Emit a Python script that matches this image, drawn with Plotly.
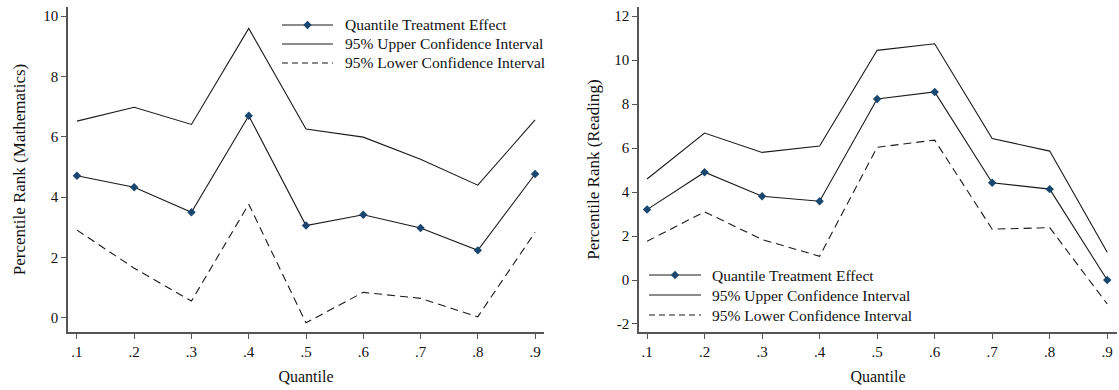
import plotly.graph_objects as go

# Quantiles on the horizontal axis
quantiles = [0.1, 0.2, 0.3, 0.4, 0.5, 0.6, 0.7, 0.8, 0.9]
tick_labels = [".1", ".2", ".3", ".4", ".5", ".6", ".7", ".8", ".9"]

# Mathematics: quantile treatment effects with 95% bounds
math_qte = [4.71, 4.33, 3.50, 6.70, 3.06, 3.42, 2.98, 2.24, 4.77]
math_upper = [6.52, 6.98, 6.41, 9.59, 6.26, 5.99, 5.26, 4.40, 6.56]
math_lower = [2.91, 1.65, 0.56, 3.77, -0.16, 0.85, 0.65, 0.04, 2.84]
math_yticks = [0, 2, 4, 6, 8, 10]

# Reading: quantile treatment effects with 95% bounds
read_qte = [3.20, 4.90, 3.81, 3.58, 8.23, 8.55, 4.42, 4.13, 0.00]
read_upper = [4.59, 6.68, 5.80, 6.09, 10.44, 10.74, 6.43, 5.86, 1.26]
read_lower = [1.76, 3.10, 1.84, 1.08, 6.03, 6.36, 2.31, 2.38, -1.09]
read_yticks = [-2, 0, 2, 4, 6, 8, 10, 12]

series_names = [
    "Quantile Treatment Effect",
    "95% Upper Confidence Interval",
    "95% Lower Confidence Interval",
]

FONT = "Liberation Serif"
NAVY = "#1a476f"
LINE = "#1a1a1a"
TEXT = "#111111"
DASH = "8px,5px"

W, H = 1119, 390
ML, MR, MT, MB = 68, 2, 7, 58
PW = W - ML - MR
PH = H - MT - MB

fig = go.Figure()


def add_panel(xa, ya, qte, upper, lower):
    fig.add_trace(go.Scatter(
        x=quantiles, y=qte, xaxis=xa, yaxis=ya, showlegend=False,
        mode="lines+markers", name=series_names[0],
        line=dict(color=LINE, width=1.1),
        marker=dict(symbol="diamond", size=6.5, color=NAVY),
    ))
    fig.add_trace(go.Scatter(
        x=quantiles, y=upper, xaxis=xa, yaxis=ya, showlegend=False,
        mode="lines", name=series_names[1],
        line=dict(color=LINE, width=1.1),
    ))
    fig.add_trace(go.Scatter(
        x=quantiles, y=lower, xaxis=xa, yaxis=ya, showlegend=False,
        mode="lines", name=series_names[2],
        line=dict(color=LINE, width=1.1, dash=DASH),
    ))


add_panel("x", "y", math_qte, math_upper, math_lower)
add_panel("x2", "y2", read_qte, read_upper, read_lower)


def px_x(px):
    return (px - ML) / PW


def px_y(py):
    return (H - MB - py) / PH


# Stata-style key drawn inside each panel: sample line, optional marker, label
def add_key(x0, x1, text_x, rows):
    for i, (name, py) in enumerate(zip(series_names, rows)):
        dash = "6px,4px" if i == 2 else "solid"
        fig.add_shape(
            type="line", xref="paper", yref="paper",
            x0=px_x(x0), x1=px_x(x1), y0=px_y(py), y1=px_y(py),
            line=dict(color=LINE, width=1.1, dash=dash),
        )
        if i == 0:
            fig.add_shape(
                type="path", xref="paper", yref="paper",
                xsizemode="pixel", ysizemode="pixel",
                xanchor=px_x((x0 + x1) / 2), yanchor=px_y(py),
                path="M0,4.2 L4.2,0 L0,-4.2 L-4.2,0 Z",
                fillcolor=NAVY, line=dict(color=NAVY, width=0),
            )
        fig.add_annotation(
            xref="paper", yref="paper", x=px_x(text_x), y=px_y(py),
            xanchor="left", yanchor="middle", showarrow=False,
            text=name, font=dict(family=FONT, size=15.5, color=TEXT),
        )


add_key(282, 333, 343, [25, 44, 63])
add_key(649, 701, 710, [275, 295, 315])

axis_common = dict(
    showgrid=False, zeroline=False, showline=True,
    linecolor="#555555", linewidth=1.6,
    ticks="outside", ticklen=5, tickwidth=1.2, tickcolor="#555555",
    tickfont=dict(family=FONT, size=15, color=TEXT),
)

fig.update_layout(
    width=W, height=H,
    margin=dict(l=ML, r=MR, t=MT, b=MB),
    paper_bgcolor="white", plot_bgcolor="white",
    font=dict(family=FONT, size=15, color=TEXT),
    showlegend=False,
    xaxis=dict(
        **axis_common, domain=[0, px_x(544)],
        range=[0.0844, 0.9156], tickvals=quantiles, ticktext=tick_labels,
        title=dict(text="Quantile", font=dict(family=FONT, size=16), standoff=12),
    ),
    yaxis=dict(
        **axis_common, range=[-0.464, 10.30],
        tickvals=math_yticks, ticktext=[str(v) for v in math_yticks],
        title=dict(text="Percentile Rank (Mathematics)", font=dict(family=FONT, size=17), standoff=13),
    ),
    xaxis2=dict(
        **axis_common, domain=[px_x(639), 1.0], anchor="y2",
        range=[0.086, 0.917], tickvals=quantiles, ticktext=tick_labels,
        title=dict(text="Quantile", font=dict(family=FONT, size=16), standoff=12),
    ),
    yaxis2=dict(
        **axis_common, anchor="x2", range=[-2.364, 12.41],
        tickvals=read_yticks, ticktext=[str(v) for v in read_yticks],
        title=dict(text="Percentile Rank (Reading)", font=dict(family=FONT, size=17), standoff=10),
    ),
)

fig.write_html("out.html")
